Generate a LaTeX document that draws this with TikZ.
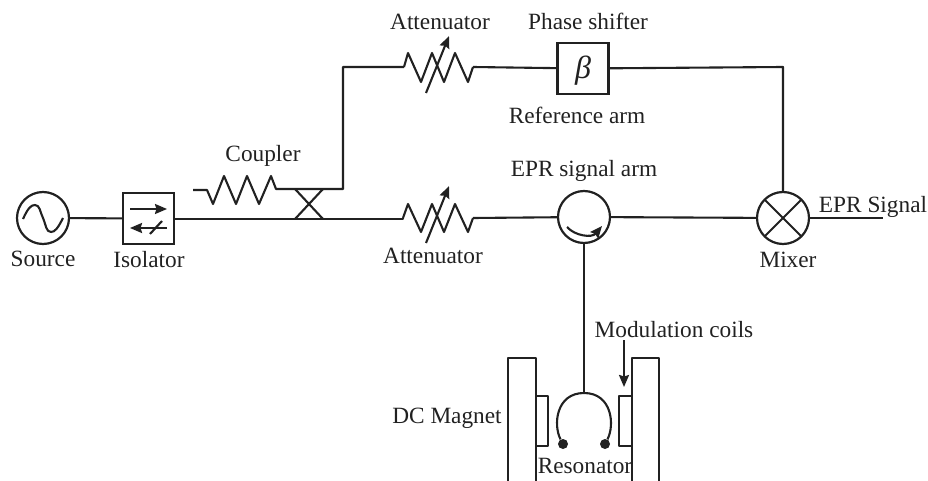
\documentclass[tikz,border=0pt]{standalone}
\usepackage{fontspec}
\setmainfont{Liberation Serif}
\usetikzlibrary{arrows.meta,calc}
\definecolor{ink}{gray}{0.13}
\tikzset{
  wire/.style={draw=ink,line width=2.1pt,line join=round},
  tip/.style={wire,-{Stealth[length=12pt,width=10pt,inset=1.5pt]}},
  disc/.style={circle,draw=ink,line width=2.2pt,minimum size=52pt,inner sep=0pt,outer sep=0pt},
  sq/.style={rectangle,draw=ink,line width=2.1pt,minimum size=51pt,inner sep=0pt,outer sep=0pt},
  lab/.style={text=ink,anchor=base,inner sep=0pt,font=\fontsize{23.3}{23.3}\selectfont},
  dot/.style={circle,fill=ink,minimum size=10pt,inner sep=0pt}
}
\begin{document}
\begin{tikzpicture}[x=1pt,y=-1pt]
\useasboundingbox (0,0) rectangle (928,481);
% components
\node[disc] (src) at (43,218) {};
\node[sq] (iso) at (148.5,218.5) {};
\node[sq] (phase) at (583,68.5) {};
\node[text=ink,font=\fontsize{32}{32}\selectfont\itshape] (beta) at (583,71) {β};
\node[disc] (circ) at (584,217) {};
\node[disc] (mix) at (783,218) {};
\coordinate (cplA) at (295,189);
\coordinate (cplB) at (323,189);
\coordinate (cplC) at (295,219);
\coordinate (cplD) at (323,219);
\coordinate (corner1) at (343,67);
\coordinate (corner2) at (783,67);
\coordinate (out) at (883,218);
\coordinate (topS) at (404,67);
\coordinate (topE) at (473,67);
\coordinate (lowS) at (403,218);
\coordinate (lowE) at (473,218);
\coordinate (cplS) at (193,190);
\coordinate (cplE) at (276,189);
\coordinate (resTop) at (584,393);
\node[dot] (resL) at (563,444) {};
\node[dot] (resR) at (605,444) {};
% sine in source
\draw[wire] (23,219) .. controls (28,208) and (31,205) .. (35,205) .. controls (40,205) and (40,212) .. (43,218) .. controls (46,225) and (46,232) .. (51,232) .. controls (55,232) and (58,228) .. (63,218);
% isolator inside
\coordinate (i1) at (130,209); \coordinate (i2) at (167,209);
\coordinate (i3) at (167,228); \coordinate (i4) at (130,228);
\coordinate (i5) at (150,234); \coordinate (i6) at (162,221);
\draw[tip] (i1) -- (i2);
\draw[tip] (i3) -- (i4);
\draw[wire] (i5) -- (i6);
% main wires
\draw[wire] (src) -- (iso);
\draw[wire] (iso.east |- cplC) -- (lowS |- cplC) -- (lowS);
\draw[wire] (lowE) -- (circ);
\draw[wire] (circ) -- (mix);
\draw[wire] (mix) -- (out);
% coupler
\draw[wire] (cplA) -- (cplD);
\draw[wire] (cplB) -- (cplC);
\draw[wire] (cplS) -- (207,190) -- (213,204) -- (224,176) -- (236,204) -- (247,176) -- (259,204) -- (271,176) -- (cplE) -- (corner1 |- cplE) -- (corner1) -- (topS);
% top attenuator
\draw[wire] (topS) -- (408,53) -- (421,82) -- (432,53) -- (444,82) -- (455,53) -- (468,82) -- (topE);
\draw[tip] (426,93) -- (449,36);
\draw[wire] (topE) -- (phase);
\draw[wire] (phase) -- (corner2) -- (mix);
% lower attenuator
\draw[wire] (lowS) -- (408,204) -- (421,232) -- (432,204) -- (444,232) -- (455,204) -- (468,232) -- (lowE);
\draw[tip] (426,243) -- (449,186);
% circulator arrow
\draw[tip] (567,227) .. controls (575,236) and (592,238) .. (602,226);
% mixer cross
\draw[wire] (mix.north west) -- (mix.south east);
\draw[wire] (mix.north east) -- (mix.south west);
% resonator
\draw[wire] (circ) -- (resTop);
\draw[wire] (resL) .. controls (553,425) and (556,393) .. (resTop) .. controls (612,393) and (615,425) .. (resR);
% magnets and coils
\draw[wire] (508,481) -- (508,358) -- (536,358) -- (536,481);
\draw[wire] (632,481) -- (632,358) -- (659,358) -- (659,481);
\draw[wire] (536,396) -- (548,396) -- (548,446) -- (536,446);
\draw[wire] (632,396) -- (619,396) -- (619,446) -- (632,446);
\draw[tip] (624,340) -- (624,387);
% labels
\node[lab] (l1) at (43,266) {Source};
\node[lab] (l2) at (149,267) {Isolator};
\node[lab] (l3) at (263,162) {Coupler};
\node[lab] (l4) at (440,30) {Attenuator};
\node[lab] (l5) at (588,30) {Phase shifter};
\node[lab] (l6) at (577,124) {Reference arm};
\node[lab] (l7) at (584,177) {EPR signal arm};
\node[lab] (l8) at (433,263) {Attenuator};
\node[lab] (l9) at (873,212) {EPR Signal};
\node[lab] (l10) at (788,267) {Mixer};
\node[lab] (l11) at (674,337) {Modulation coils};
\node[lab] (l12) at (447,423) {DC Magnet};
\node[lab] (l13) at (585,473) {Resonator};
\end{tikzpicture}
\end{document}
